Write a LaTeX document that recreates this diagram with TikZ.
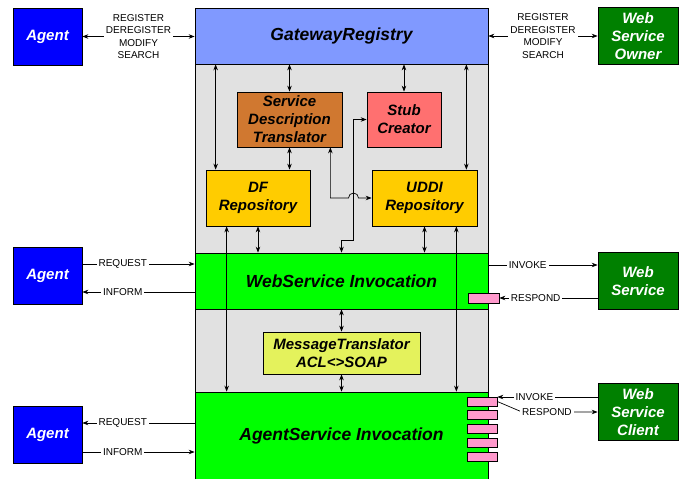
\documentclass[tikz,border=0pt]{standalone}
\usepackage{fontspec}
\setmainfont{Liberation Sans}
\usetikzlibrary{arrows.meta}
\definecolor{agentblue}{HTML}{0000FF}
\definecolor{ownergreen}{HTML}{008000}
\definecolor{bandgreen}{HTML}{00FF00}
\definecolor{regblue}{HTML}{8099FF}
\definecolor{colgray}{HTML}{E1E1E1}
\definecolor{sdtbrown}{HTML}{D07830}
\definecolor{stubred}{HTML}{FF7070}
\definecolor{repoyellow}{HTML}{FFCC00}
\definecolor{msgyellow}{HTML}{E4F25C}
\definecolor{portpink}{HTML}{FF99CC}

\begin{document}
\begin{tikzpicture}[x=1pt,y=-1pt,line width=0.7pt,
  >={Stealth[length=6pt,width=4.5pt]},
  lbl/.style={fill=white, inner sep=2pt, align=center, font=\fontsize{10}{12.4}\selectfont},
  boxtext/.style={align=center, font=\fontsize{15}{18}\selectfont\bfseries\itshape},
  bandtext/.style={font=\fontsize{17.5}{21}\selectfont\bfseries\itshape}]
\useasboundingbox (0,0) rectangle (686,479);
\draw[fill=colgray] (195,8) rectangle (488,479);
% outside parties
 \begin{scope}[every node/.style={draw, boxtext, fill=agentblue, text=white,
                      minimum width=69pt, minimum height=57pt}]
  \node (ag1) at (47.5,36.5) {Agent};
  \node (ag2) at (47.5,275.5) {Agent};
  \node (ag3) at (47.5,434.5) {Agent};
 \end{scope}
 \begin{scope}[every node/.style={draw, boxtext, fill=ownergreen, text=white,
                      minimum width=80pt, minimum height=57pt}]
  \node (owner) at (638,36) {Web\\Service\\Owner};
  \node (wsvc) at (638,281) {Web\\Service};
  \node (client) at (638,412) {Web\\Service\\Client};
 \end{scope}
% gateway column
 \begin{scope}[every node/.style={draw, bandtext, minimum width=293pt}]
  \node[fill=regblue, minimum height=56pt] (gw) at (341.5,36) {GatewayRegistry};
  \node[fill=bandgreen, minimum height=56pt] (wsi) at (341.5,281) {WebService Invocation};
  \node[fill=bandgreen, minimum height=87pt] (asi) at (341.5,435.5) {AgentService Invocation};
 \end{scope}
 \begin{scope}[every node/.style={draw, boxtext, minimum height=55pt}]
  \node[fill=sdtbrown, minimum width=105pt] (sdt) at (289.5,119.5) {Service\\Description\\Translator};
  \node[fill=stubred, minimum width=74pt] (stub) at (404,119.5) {Stub\\Creator};
  \node[fill=repoyellow, minimum width=104pt, minimum height=56pt] (df) at (258,198) {DF\\Repository};
  \node[fill=repoyellow, minimum width=105pt, minimum height=56pt] (uddi) at (424.5,198) {UDDI\\Repository};
  \node[fill=msgyellow, minimum width=157pt, minimum height=42pt] (mt) at (341.5,353) {MessageTranslator\\ACL<>SOAP};
 \end{scope}
 \begin{scope}[every node/.style={draw, fill=portpink, inner sep=0pt,
                      minimum width=30pt, minimum height=9pt}]
  \node[minimum width=31pt, minimum height=10pt] (pk0) at (483.5,298) {};
  \foreach \i/\y in {1/401.5,2/415.25,3/429,4/442.75,5/456.5}
    \node (pk\i) at (482,\y) {};
 \end{scope}
% messages to and from the column
  \path [<->] (ag1) edge node[lbl] {REGISTER\\DEREGISTER\\MODIFY\\SEARCH} (ag1 -| gw.west);
  \path [<->] (gw.east) edge node[lbl] {REGISTER\\DEREGISTER\\MODIFY\\SEARCH} (owner);
  \coordinate (rq2) at ([yshift=11.5pt]ag2.east);
  \coordinate (in2) at ([yshift=-16.5pt]ag2.east);
  \coordinate (rq3) at ([yshift=11.5pt]ag3.east);
  \coordinate (in3) at ([yshift=-17.5pt]ag3.east);
  \path [->] (rq2) edge node[lbl, pos=0.36] {REQUEST} (rq2 -| wsi.west);
  \path [<-] (in2) edge node[lbl, pos=0.36] {INFORM} (in2 -| wsi.west);
  \path [<-] (rq3) edge node[lbl, pos=0.36] {REQUEST} (rq3 -| asi.west);
  \path [->] (in3) edge node[lbl, pos=0.36] {INFORM} (in3 -| asi.west);
  \coordinate (inv) at ([yshift=16pt]wsi.east);
  \path [->] (inv) edge node[lbl, pos=0.36] {INVOKE} (inv -| wsvc.west);
  \path [<-] (pk0.east) edge node[lbl, pos=0.37] {RESPOND} (pk0.east -| wsvc.west);
  \coordinate (cinv) at ([yshift=15pt]client.west);
  \path [<-] (cinv -| pk1.east) edge node[lbl, pos=0.37] {INVOKE} (cinv);
  \coordinate (rb) at (522,412);
  \draw [->] (pk1.east) -- (rb) -- node[lbl, pos=0.33] {RESPOND} (client.west);
% inside the column
  \coordinate (ga) at ([xshift=10pt]df.north west);
  \coordinate (gb) at ([xshift=-11pt]uddi.north east);
  \coordinate (la) at ([xshift=21pt]df.south west);
  \coordinate (lb) at ([xshift=-21pt]uddi.south east);
  \path [<->] (ga |- gw.south) edge (ga);
  \path [<->] (gw.south -| sdt.north) edge (sdt.north);
  \path [<->] (gw.south -| stub.north) edge (stub.north);
  \path [<->] (gb |- gw.south) edge (gb);
  \path [<->] (sdt.south) edge (sdt.south |- df.north);
  \path [<->] (df.south) edge (df.south |- wsi.north);
  \path [<->] (uddi.south) edge (uddi.south |- wsi.north);
  \path [<->] (la) edge (la |- asi.north);
  \path [<->] (lb) edge (lb |- asi.north);
  \path [<->] (wsi.south -| mt.north) edge (mt.north);
  \path [<->] (mt.south) edge (mt.south |- asi.north);
  \coordinate (vl) at (353.5,240);
  \draw [<->] (stub.west) -- (stub.west -| vl) -- (vl) -| (wsi.north -| mt.north);
  \coordinate (hs) at ([xshift=-12pt]sdt.south east);
  \coordinate (hopl) at (348.5,198);
  \draw [<->] (hs) |- (hopl) arc[start angle=180, end angle=0, radius=5pt] -- (uddi.west);
\end{tikzpicture}
\end{document}
